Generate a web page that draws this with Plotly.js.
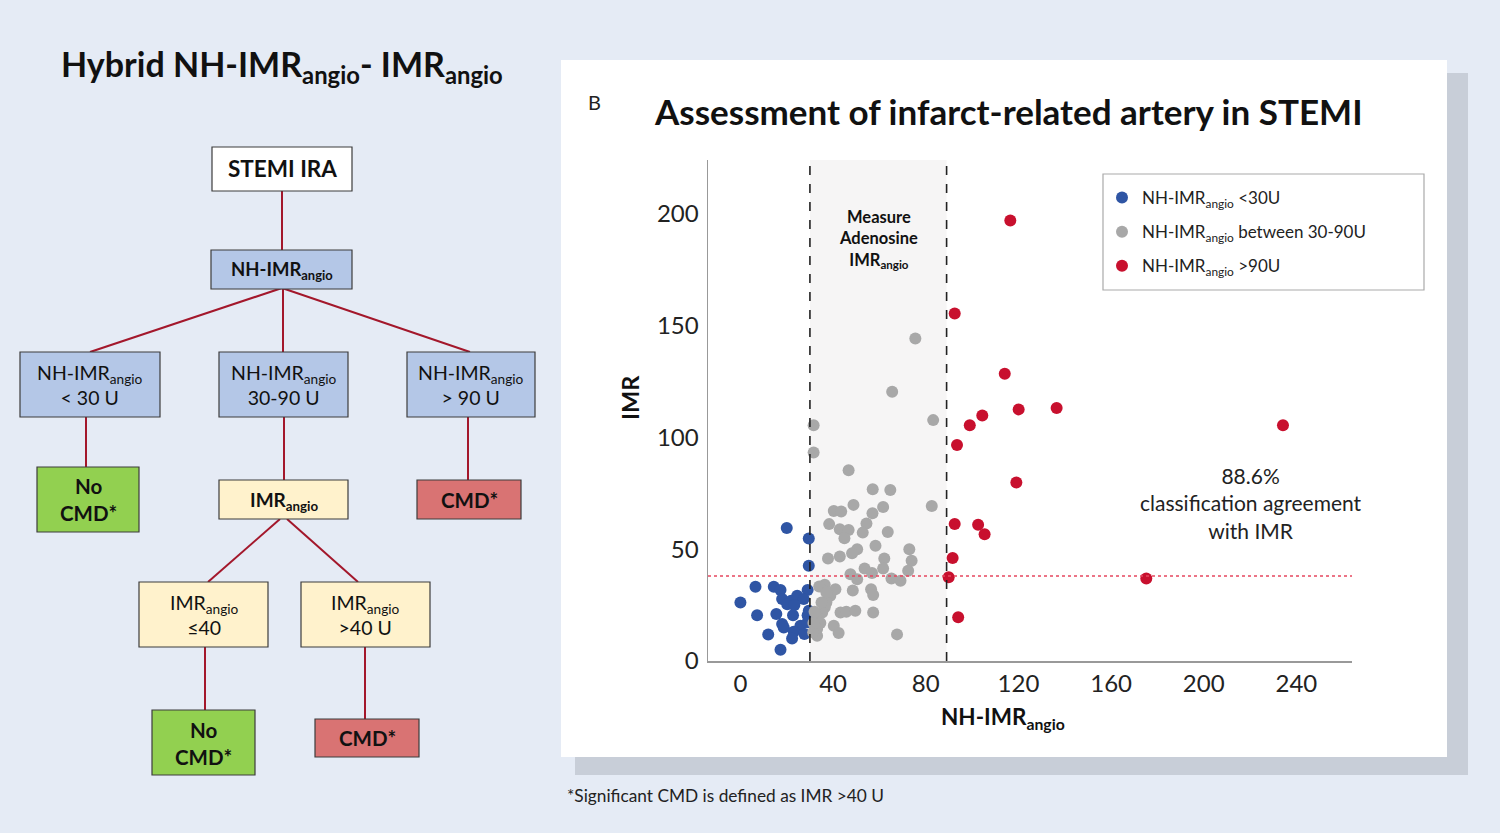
<!DOCTYPE html>
<html>
<head>
<meta charset="utf-8">
<script src="https://cdn.plot.ly/plotly-3.0.1.min.js"></script>
<style>html,body{margin:0;padding:0;background:#e5ebf5;}#chart{width:1500px;height:833px;}</style>
</head>
<body>
<div id="chart"></div>
<script>
// ---- data ----
const blueX = [20,29.5,29.5,6.5,14.4,17.3,29,0,18,21.9,24.5,27.3,20.2,23.3,7.2,15.5,22.7,29,18,25.9,29,12,23,22.3,27.6,17.3,18.7,29.5];
const blueY = [59.5,54.8,42.6,33.2,33.2,31.7,31.7,26.2,27.7,26.9,29.2,27.7,25.4,25,20.5,21,20.5,20.5,16.5,15.8,17.3,11.8,13.1,10.1,12.1,5,15,22.5];

const grayX = [75.5,65.5,83.2,31.6,31.6,46.7,57.1,64.7,82.6,48.8,40.3,43.5,61.6,57,38.3,54.4,42.9,46.7,52.8,63.6,44.9,72.9,58.3,50.4,48.2,37.8,42.9,62.1,73.9,61.6,53.6,72.4,47.5,56.8,50.4,69.1,65.2,36.4,34,41,48.5,56.4,38.8,57.3,37.1,36.4,43.2,45.7,49.6,57.3,35.3,33.1,34.5,40.3,33.1,42.4,33.1,31.4,67.6,35,37.1,31.5,32];
const grayY = [144.2,120.4,107.7,105.4,93.2,85.3,76.8,76.5,69.3,69.8,67.1,66.8,68.9,66.1,61.2,61.5,58.9,58.6,57.4,57.7,54.9,50,51.5,50,48.2,45.8,46.7,45.8,44.8,41.4,41.4,40.3,38.8,39.3,36.6,35.9,36.9,34.1,33.3,32.1,31.5,32.1,29.2,29.5,26.2,24,21.7,22,22.5,21.7,21.7,19.5,17,15.8,14.3,12.5,11.3,12.8,11.9,26.2,30.7,17,22];

const redX = [116.5,92.5,114.1,120.1,136.5,104.4,99,93.5,234.2,119.1,92.5,102.6,105.4,91.6,89.9,175.2,94];
const redY = [196.9,155.4,128.4,112.5,113.1,109.8,105.4,96.6,105.4,79.8,61.3,60.9,56.7,46.1,37.4,36.9,19.6];

const seriesNames = [
  'NH-IMR<sub>angio</sub> &lt;30U',
  'NH-IMR<sub>angio</sub> between 30-90U',
  'NH-IMR<sub>angio</sub> &gt;90U'
];
const xTicks = [0,40,80,120,160,200,240];
const yTicks = [0,50,100,150,200];
const zoneLimits = [30, 89];   // NH-IMR_angio thresholds, as drawn
const imrCut = 38;             // red dotted reference line, as drawn
const agreementText = '88.6%<br>classification agreement<br>with IMR';

// ---- helpers (pixel -> paper) ----
const W = 1500, H = 833;
const PX = x => x / W;
const PY = y => 1 - y / H;
const FONT = 'Lato, "Open Sans", "DejaVu Sans", sans-serif';
const LINE = '#a3172b';

const shapes = [];
const annotations = [];

// panel shadow + white panel
shapes.push({type:'rect', xref:'paper', yref:'paper', x0:PX(575), x1:PX(1468), y0:PY(73), y1:PY(775),
  fillcolor:'#c8ced8', line:{width:0}, layer:'below'});
shapes.push({type:'rect', xref:'paper', yref:'paper', x0:PX(561), x1:PX(1447), y0:PY(60), y1:PY(757),
  fillcolor:'#ffffff', line:{width:0}, layer:'below'});

// flowchart boxes
function box(x0, y0, x1, y1, fill) {
  shapes.push({type:'rect', xref:'paper', yref:'paper', x0:PX(x0), x1:PX(x1), y0:PY(y1), y1:PY(y0),
    fillcolor:fill, line:{color:'#3c3c3c', width:1.2}});
}
function seg(x0, y0, x1, y1) {
  shapes.push({type:'line', xref:'paper', yref:'paper', x0:PX(x0), x1:PX(x1), y0:PY(y0), y1:PY(y1),
    line:{color:LINE, width:2}});
}
function label(x, y, text, size, opts) {
  annotations.push(Object.assign({xref:'paper', yref:'paper', x:PX(x), y:PY(y), text:text, showarrow:false,
    xanchor:'center', yanchor:'middle', font:{family:FONT, size:size, color:'#111'}}, opts || {}));
}
const BLUE = '#b4c7e7', YEL = '#fff2cc', GRN = '#92d050', RED = '#d97373';

// connectors
seg(282,190,282,250);
seg(282,288,90,352); seg(283,288,283,352); seg(282,288,470,352);
seg(86,417,86,467); seg(284,417,284,480); seg(468,417,468,480);
seg(280,519,208,582); seg(287,519,358,582);
seg(205,647,205,710); seg(365,647,365,719);

box(212,147,352,191,'#ffffff');
box(211,250,352,289,BLUE);
box(20,352,160,417,BLUE);
box(219,352,348,417,BLUE);
box(407,352,535,417,BLUE);
box(37,467,139,532,GRN);
box(219,480,348,519,YEL);
box(417,480,521,519,RED);
box(139,582,268,647,YEL);
box(301,582,430,647,YEL);
box(152,710,255,775,GRN);
box(315,719,419,757,RED);

label(282,66,'<b>Hybrid NH-IMR<sub>angio</sub>- IMR<sub>angio</sub></b>',34);
label(282,169,'<b>STEMI IRA</b>',22.5);
label(282,270,'<b>NH-IMR<sub>angio</sub></b>',18.5);
label(90,385,'NH-IMR<sub>angio</sub><br>&lt; 30 U',19.5);
label(284,385,'NH-IMR<sub>angio</sub><br>30-90 U',19.5);
label(471,385,'NH-IMR<sub>angio</sub><br>&gt; 90 U',19.5);
label(88,499,'<b>No<br>CMD*</b>',20.5);
label(284,501,'<b>IMR<sub>angio</sub></b>',19);
label(469,500,'<b>CMD*</b>',20.5);
label(204,615,'IMR<sub>angio</sub><br>≤40',19.5);
label(365,615,'IMR<sub>angio</sub><br>&gt;40 U',19.5);
label(203,743,'<b>No<br>CMD*</b>',20.5);
label(367,738,'<b>CMD*</b>',20.5);

// panel texts
label(594,102,'B',20,{font:{family:FONT,size:20,color:'#222'}});
label(1008,111,'<b>Assessment of infarct-related artery in STEMI</b>',35);
label(565,795,'*Significant CMD is defined as IMR &gt;40 U',17.3,{xanchor:'left', font:{family:FONT,size:17.3,color:'#222'}});
label(630,398,'<b>IMR</b>',23.5,{textangle:-90});
label(1003,718,'<b>NH-IMR<sub>angio</sub></b>',22.5);

// legend frame
shapes.push({type:'rect', xref:'paper', yref:'paper', x0:PX(1103), x1:PX(1424), y0:PY(290), y1:PY(174),
  fillcolor:'#ffffff', line:{color:'#aaaaaa', width:1.2}, layer:'below'});

// plot-area decorations
shapes.push({type:'rect', xref:'x', yref:'y domain', x0:zoneLimits[0], x1:zoneLimits[1], y0:0, y1:1,
  fillcolor:'#f6f5f5', line:{width:0}, layer:'below'});
zoneLimits.forEach(v => shapes.push({type:'line', xref:'x', yref:'y domain', x0:v, x1:v, y0:0, y1:1,
  line:{color:'#222', width:1.6, dash:'dash'}, layer:'above'}));
shapes.push({type:'line', xref:'x domain', yref:'y', x0:0, x1:1, y0:imrCut, y1:imrCut,
  line:{color:'#e6475f', width:1.6, dash:'dot'}, layer:'above'});

annotations.push({xref:'x', yref:'y', x:(zoneLimits[0]+zoneLimits[1])/2, y:188.5, showarrow:false,
  text:'<b>Measure<br>Adenosine<br>IMR<sub>angio</sub></b>', font:{family:FONT, size:16.5, color:'#111'}});
annotations.push({xref:'x', yref:'y', x:220.5, y:70.5, showarrow:false,
  text:agreementText, font:{family:FONT, size:21, color:'#222'}});

const mk = (x, y, name, color, g) => ({type:'scatter', mode:'markers', x:x, y:y, name:name,
  legendgroup:g, marker:{color:color, size:12, line:{width:0}}, cliponaxis:false});

const traces = [
  mk(blueX, blueY, seriesNames[0], '#2f55a4', 'a'),
  mk(grayX, grayY, seriesNames[1], '#a8a8a8', 'b'),
  mk(redX, redY, seriesNames[2], '#c8102e', 'c')
];

const layout = {
  width: W, height: H,
  margin: {l:0, r:0, t:0, b:0},
  paper_bgcolor: '#e5ebf5',
  plot_bgcolor: 'rgba(0,0,0,0)',
  font: {family: FONT, color:'#222'},
  showlegend: true,
  legend: {x:PX(1102), y:PY(180), xanchor:'left', yanchor:'top', bgcolor:'rgba(0,0,0,0)',
    borderwidth:0, font:{family:FONT, size:17, color:'#222'}, tracegroupgap:9, itemwidth:30},
  xaxis: {domain:[PX(708), PX(1352)], range:[-14, 264], tickvals:xTicks, ticktext:xTicks.map(String),
    showgrid:false, zeroline:false, showline:true, linecolor:'#999', linewidth:1.5, ticks:'',
    ticklabelstandoff:1, tickfont:{family:FONT, size:24, color:'#222'}},
  yaxis: {domain:[PY(661), PY(160)], range:[0, 224], tickvals:yTicks, ticktext:yTicks.map(String),
    showgrid:false, zeroline:false, showline:true, linecolor:'#999', linewidth:1.5, ticks:'',
    ticklabelstandoff:3, tickfont:{family:FONT, size:24, color:'#222'}},
  shapes: shapes,
  annotations: annotations
};

Plotly.newPlot('chart', traces, layout, {displayModeBar:false, staticPlot:true});
</script>
</body>
</html>
